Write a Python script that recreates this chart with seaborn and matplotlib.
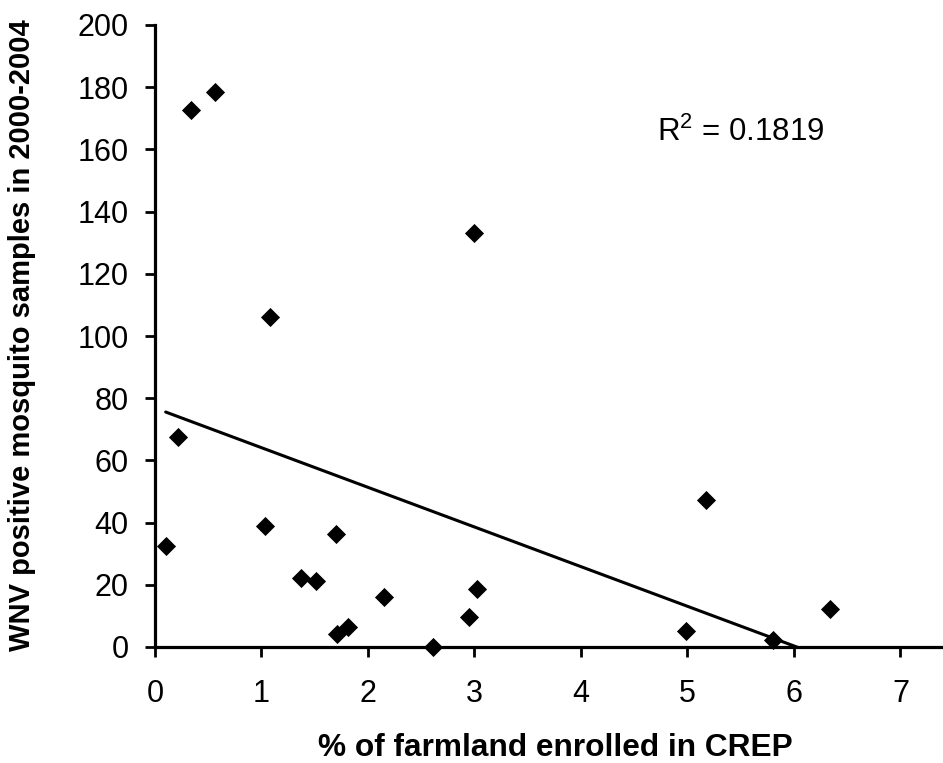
import numpy as np
import pandas as pd
import matplotlib
matplotlib.use("Agg")
import matplotlib.pyplot as plt
import seaborn as sns

# Data
pct_farmland = [0.10, 0.22, 0.34, 0.56, 1.03, 1.08, 1.37, 1.51, 1.70, 1.71, 1.81,
                2.15, 2.61, 2.95, 3.00, 3.02, 4.99, 5.17, 5.80, 6.34]
wnv_samples = [32.6, 67.4, 172.7, 178.6, 39.0, 106.0, 22.3, 21.3, 36.4, 4.2, 6.5,
               16.2, 0.0, 9.5, 133.2, 18.6, 5.2, 47.4, 2.3, 12.3]
x_ticks = [0, 1, 2, 3, 4, 5, 6, 7]
y_ticks = [0, 20, 40, 60, 80, 100, 120, 140, 160, 180, 200]
r2_label = r"R$^{\mathregular{2}}$ = 0.1819"

df = pd.DataFrame({"x": pct_farmland, "y": wnv_samples})

sns.set_style("ticks")
plt.rcParams["font.family"] = ["Liberation Sans", "DejaVu Sans"]
plt.rcParams["mathtext.fontset"] = "custom"
plt.rcParams["mathtext.rm"] = "Liberation Sans"

fig = plt.figure(figsize=(9.43, 7.63), dpi=100)
ax = fig.add_axes([155 / 943, (763 - 647) / 763, (943 - 155) / 943, (647 - 25) / 763])

# Linear trendline
slope, intercept = np.polyfit(df["x"], df["y"], 1)
xs = np.array([df["x"].min(), df["x"].max()])
sns.lineplot(x=xs, y=slope * xs + intercept, ax=ax, color="black", linewidth=2.2)

sns.scatterplot(data=df, x="x", y="y", ax=ax, marker="D", s=95, color="black",
                edgecolor="black", linewidth=0, zorder=3, clip_on=False)

ax.set_xlim(0, 7.4)
ax.set_ylim(0, 200)
ax.set_xticks(x_ticks)
ax.set_yticks(y_ticks)
ax.tick_params(axis="both", labelsize=22, width=2, length=7, color="black",
               labelcolor="black", direction="out")
ax.tick_params(axis="x", pad=16)
ax.tick_params(axis="y", pad=12)
for side in ["left", "bottom"]:
    ax.spines[side].set_linewidth(2.3)
    ax.spines[side].set_color("black")
for side in ["top", "right"]:
    ax.spines[side].set_visible(False)

ax.set_xlabel("% of farmland enrolled in CREP", fontsize=22.8, fontweight="bold",
              color="black")
ax.set_ylabel("WNV positive mosquito samples in 2000-2004", fontsize=21,
              fontweight="bold", color="black")
ax.xaxis.label.set_va("center")
ax.yaxis.label.set_va("center")
ax.xaxis.set_label_coords((555 - 155) / 788, (647 - 748) / 622)
ax.yaxis.set_label_coords((22 - 155) / 788, (647 - 335) / 622)

fig.text(657 / 943, (763 - 141) / 763, r2_label, fontsize=22.5, color="black",
         va="baseline", ha="left")

fig.savefig("out.png", dpi=100)
